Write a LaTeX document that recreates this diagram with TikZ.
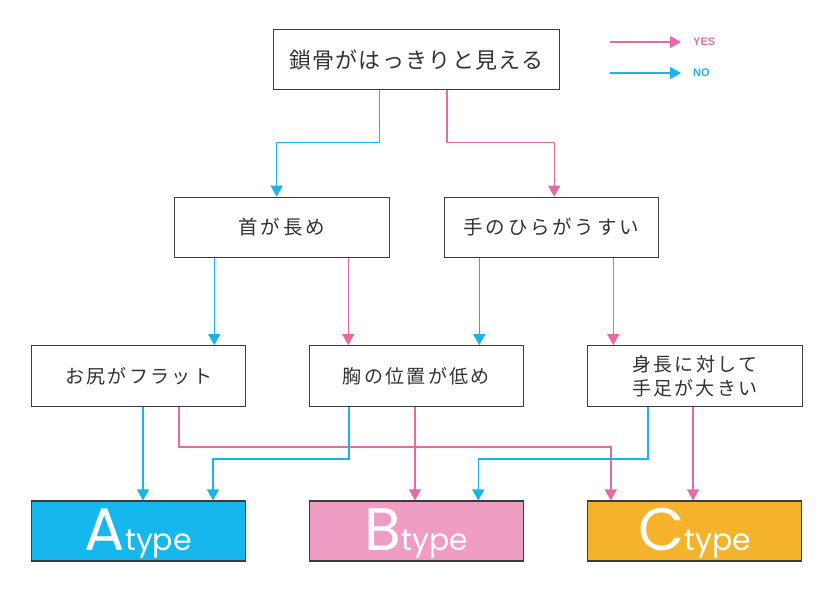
\documentclass[tikz,border=0pt]{standalone}
\usepackage{fontspec}
\newfontfamily\jpA{Noto Sans CJK JP}[LetterSpace=6]
\newfontfamily\jpB{Noto Sans CJK JP}[LetterSpace=14]
\newfontfamily\jpC{Noto Sans CJK JP}[LetterSpace=12]
\newfontfamily\typefont{Poppins}
\newfontfamily\legfont{Liberation Sans}
\usetikzlibrary{arrows.meta}
\definecolor{cblue}{HTML}{1CB3E8}
\definecolor{cpink}{HTML}{E66AA6}
\definecolor{fblue}{HTML}{14B8EE}
\definecolor{fpink}{HTML}{EF9DC3}
\definecolor{forange}{HTML}{F5B32C}
\definecolor{bord}{HTML}{3C3C3C}
\tikzset{
  qbox/.style={draw=bord, line width=1.1pt, fill=white, minimum height=60.5pt, inner sep=0pt, text=black!80},
  tbox/.style={draw=bord, line width=1.1pt, minimum width=214pt, minimum height=60pt, inner sep=0pt},
  noarr/.style={draw=cblue, line width=1.4pt, -{Triangle[width=12pt,length=11pt]}},
  yesarr/.style={draw=cpink, line width=1.4pt, -{Triangle[width=12pt,length=11pt]}},
  tlabel/.style={text=white, inner sep=0pt, anchor=base},
  leg/.style={font=\legfont\bfseries\fontsize{11}{13}\selectfont, inner sep=0pt, anchor=west}
}
\begin{document}
\begin{tikzpicture}[x=1pt,y=-1pt]
\useasboundingbox (0,0) rectangle (834,593);
\fill[white] (0,0) rectangle (834,593);

% question boxes
\node[qbox, minimum width=286pt, font=\jpA\fontsize{22}{26}\selectfont] (top) at (416.3,59.7) {鎖骨がはっきりと見える};
\node[qbox, minimum width=215pt, font=\jpB\fontsize{19.5}{24}\selectfont] (n2l) at (281.7,227.5) {首が長め};
\node[qbox, minimum width=214pt, font=\jpB\fontsize{19.5}{24}\selectfont] (n2r) at (551.2,227.5) {手のひらがうすい};
\node[qbox, minimum width=214pt, font=\jpC\fontsize{19}{23.5}\selectfont] (r1) at (138.7,376) {お尻がフラット};
\node[qbox, minimum width=214pt, font=\jpC\fontsize{19}{23.5}\selectfont] (r2) at (416.3,376) {胸の位置が低め};
\node[qbox, minimum width=215pt, align=center, font=\jpC\fontsize{19}{23.5}\selectfont] (r3) at (694.8,376) {身長に対して\\手足が大きい};

% type boxes
\node[tbox, fill=fblue] (ta) at (138.3,531) {};
\node[tbox, fill=fpink] (tb) at (416.3,531) {};
\node[tbox, fill=forange] (tc) at (694.8,531) {};
\node[tlabel] (la) at ([yshift=-19pt]ta.center) {\typefont\fontsize{60}{60}\selectfont A\fontsize{30}{30}\selectfont type};
\node[tlabel] (lb) at ([yshift=-19pt]tb.center) {\typefont\fontsize{60}{60}\selectfont B\fontsize{30}{30}\selectfont type};
\node[tlabel] (lc) at ([yshift=-19pt]tc.center) {\typefont\fontsize{60}{60}\selectfont C\fontsize{30}{30}\selectfont type};

% legend
\node[leg, text=cpink] (yes) at (693,42) {YES};
\node[leg, text=cblue] (no) at (693,73) {NO};
\coordinate (ys) at (610,42);
\coordinate (ns) at (610,73);
\draw[yesarr] (ys) -- ([xshift=-12pt]yes.west);
\draw[noarr] (ns) -- ([xshift=-12pt]no.west);

% top -> row 2
\draw[noarr] ([xshift=-37pt]top.south) -- ++(0,52.3) -| ([xshift=-5pt]n2l.north);
\draw[yesarr] ([xshift=30.5pt]top.south) -- ++(0,52.3) -| ([xshift=3pt]n2r.north);

% row 2 -> row 3
\draw[noarr] ([xshift=-67.4pt]n2l.south) coordinate (a1) -- (a1 |- r1.north);
\draw[yesarr] ([xshift=66.6pt]n2l.south) coordinate (a2) -- (a2 |- r2.north);
\draw[noarr] ([xshift=-71.9pt]n2r.south) coordinate (a3) -- (a3 |- r2.north);
\draw[yesarr] ([xshift=62.1pt]n2r.south) coordinate (a4) -- (a4 |- r3.north);

% row 3 -> types
\draw[noarr] ([xshift=4.3pt]r1.south) coordinate (b1) -- (b1 |- ta.north);
\draw[yesarr] ([xshift=40.3pt]r1.south) -- ++(0,40) -| ([xshift=-84pt]tc.north);
\draw[noarr] ([xshift=-67.3pt]r2.south) -- ++(0,52.3) -| ([xshift=74.7pt]ta.north);
\draw[yesarr] ([xshift=-1.3pt]r2.south) coordinate (b2) -- (b2 |- tb.north);
\draw[noarr] ([xshift=-46.8pt]r3.south) -- ++(0,52.3) -| ([xshift=62pt]tb.north);
\draw[yesarr] ([xshift=-1.8pt]r3.south) coordinate (b3) -- (b3 |- tc.north);
\end{tikzpicture}
\end{document}
